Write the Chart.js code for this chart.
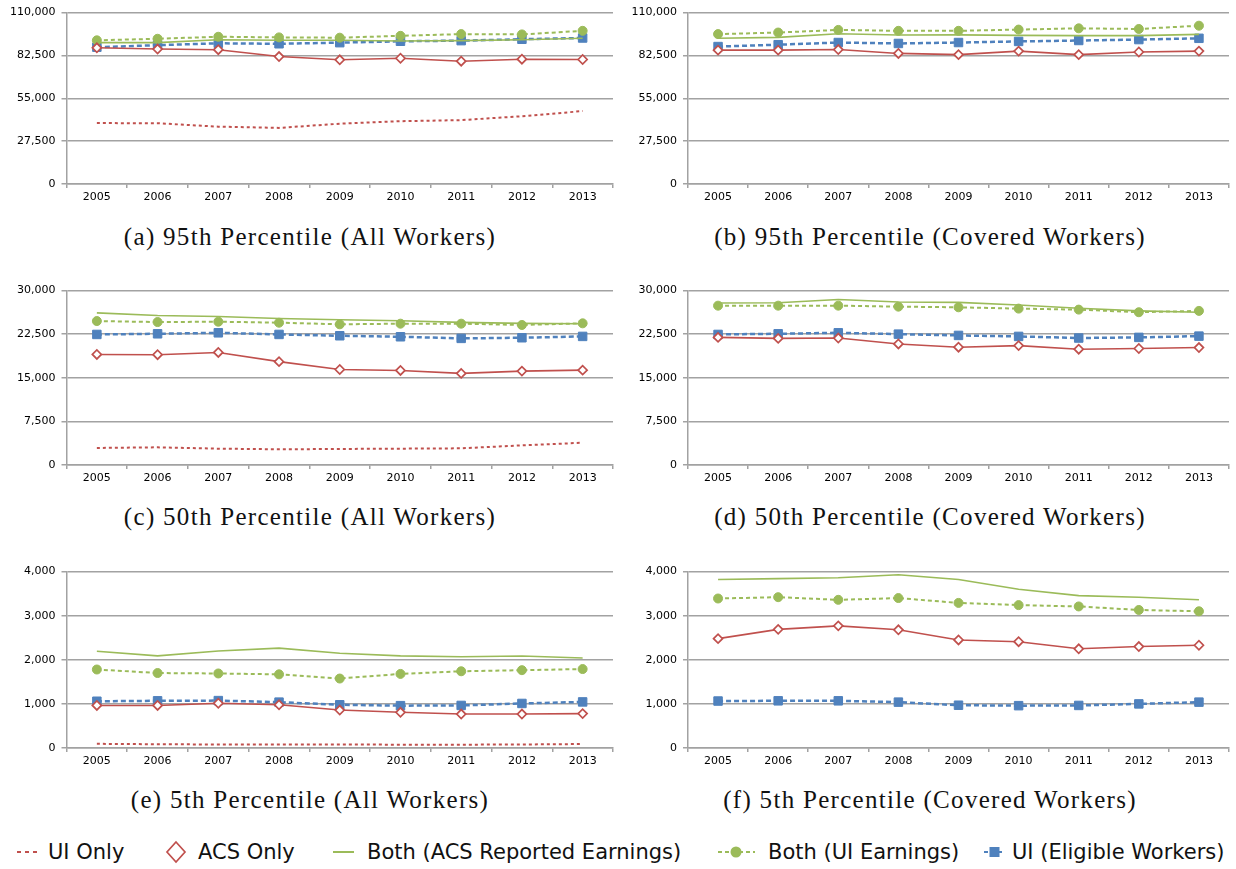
<!DOCTYPE html>
<html>
<head>
<meta charset="utf-8">
<script src="https://cdn.jsdelivr.net/npm/chart.js@4.4.1/dist/chart.umd.min.js"></script>
<style>
  html, body { margin: 0; padding: 0; background: #fff; }
  body { width: 1236px; height: 869px; position: relative; overflow: hidden; }
  canvas { position: absolute; }
  .cap { position: absolute; width: 620px; text-align: center; font-family: "Liberation Serif", serif;
         font-size: 25px; letter-spacing: 1.3px; line-height: 28px; color: #111; white-space: nowrap; }
  .leg { position: absolute; top: 838px; height: 28px; font-family: "DejaVu Sans", sans-serif;
         font-size: 21px; line-height: 28px; color: #111; white-space: nowrap; }
  .leg svg { position: absolute; top: 0; }
  .leg span { position: absolute; top: 0; }
</style>
</head>
<body>
<canvas id="pa" width="620" height="210" style="left:0;top:0"></canvas>
<canvas id="pb" width="616" height="210" style="left:620px;top:0"></canvas>
<canvas id="pc" width="620" height="213" style="left:0;top:278px"></canvas>
<canvas id="pd" width="616" height="213" style="left:620px;top:278px"></canvas>
<canvas id="pe" width="620" height="215" style="left:0;top:559px"></canvas>
<canvas id="pf" width="616" height="215" style="left:620px;top:559px"></canvas>

<div class="cap" style="left:0;top:223px">(a) 95th Percentile (All Workers)</div>
<div class="cap" style="left:620px;top:223px">(b) 95th Percentile (Covered Workers)</div>
<div class="cap" style="left:0;top:503px">(c) 50th Percentile (All Workers)</div>
<div class="cap" style="left:620px;top:503px">(d) 50th Percentile (Covered Workers)</div>
<div class="cap" style="left:0;top:786px">(e) 5th Percentile (All Workers)</div>
<div class="cap" style="left:620px;top:786px">(f) 5th Percentile (Covered Workers)</div>

<div class="leg" style="left:0;width:160px">
  <svg width="44" height="28" style="left:12px"><line x1="5" y1="14" x2="28" y2="14" stroke="#C0504D" stroke-width="2" stroke-dasharray="4,4"/></svg>
  <span style="left:48px">UI Only</span>
</div>
<div class="leg" style="left:160px;width:170px">
  <svg width="34" height="28" style="left:0"><path d="M16 4 L25 14 L16 24 L7 14 Z" fill="#fff" stroke="#C0504D" stroke-width="1.7"/></svg>
  <span style="left:38px">ACS Only</span>
</div>
<div class="leg" style="left:330px;width:380px">
  <svg width="30" height="28" style="left:0"><line x1="3" y1="14" x2="24" y2="14" stroke="#9BBB59" stroke-width="2"/></svg>
  <span style="left:37px">Both (ACS Reported Earnings)</span>
</div>
<div class="leg" style="left:715px;width:250px">
  <svg width="44" height="28" style="left:0"><line x1="3" y1="14" x2="40" y2="14" stroke="#9BBB59" stroke-width="2" stroke-dasharray="4,3"/><circle cx="21" cy="14" r="5.5" fill="#9BBB59"/></svg>
  <span style="left:53px">Both (UI Earnings)</span>
</div>
<div class="leg" style="left:980px;width:256px">
  <svg width="30" height="28" style="left:0"><line x1="4" y1="14" x2="24" y2="14" stroke="#4F81BD" stroke-width="2" stroke-dasharray="4,3"/><rect x="9.5" y="9" width="10" height="10" fill="#4F81BD"/></svg>
  <span style="left:32px">UI (Eligible Workers)</span>
</div>

<script>
// Survey years on the category axis
const years = ['2005', '2006', '2007', '2008', '2009', '2010', '2011', '2012', '2013'];

// Y-axis tick values per percentile
const ticks95 = [0, 27500, 55000, 82500, 110000];
const ticks50 = [0, 7500, 15000, 22500, 30000];
const ticks05 = [0, 1000, 2000, 3000, 4000];

// 95th percentile, all workers
const p95AllUiOnly  = [39100, 39000, 36800, 36000, 38700, 40300, 41000, 43500, 46800];
const p95AllAcsOnly = [87400, 86600, 86200, 81800, 79700, 80700, 78800, 80100, 79900];
const p95AllBothAcs = [90700, 90700, 92600, 92300, 92300, 91800, 92000, 92600, 93500];
const p95AllBothUi  = [92200, 93200, 94500, 94100, 93900, 95100, 96200, 96000, 98300];
const p95AllUiElig  = [87800, 89100, 90300, 90000, 90700, 91600, 92000, 92900, 93700];

// 95th percentile, covered workers
const p95CovAcsOnly = [85900, 85900, 86300, 83800, 83000, 85300, 83000, 84700, 85300];
const p95CovBothAcs = [93500, 94100, 96400, 95600, 95700, 95400, 95200, 95200, 96000];
const p95CovBothUi  = [96200, 97200, 98900, 98300, 98300, 99100, 99900, 99500, 101600];
const p95CovUiElig  = [88200, 89400, 90800, 90200, 90800, 91500, 92100, 92700, 93500];

// 50th percentile, all workers
const p50AllUiOnly  = [2930, 3040, 2810, 2700, 2760, 2810, 2870, 3380, 3830];
const p50AllAcsOnly = [19020, 18970, 19360, 17780, 16430, 16260, 15760, 16150, 16320];
const p50AllBothAcs = [26170, 25720, 25550, 25210, 24990, 24820, 24540, 24370, 24310];
const p50AllBothUi  = [24760, 24590, 24650, 24480, 24200, 24310, 24310, 24090, 24370];
const p50AllUiElig  = [22460, 22570, 22740, 22460, 22230, 22060, 21780, 21890, 22120];

// 50th percentile, covered workers
const p50CovAcsOnly = [21950, 21780, 21840, 20820, 20260, 20540, 19920, 20040, 20200];
const p50CovBothAcs = [27860, 27920, 28480, 28030, 27970, 27520, 26960, 26510, 26280];
const p50CovBothUi  = [27410, 27410, 27410, 27240, 27130, 26900, 26730, 26280, 26510];
const p50CovUiElig  = [22460, 22570, 22740, 22510, 22290, 22120, 21840, 21950, 22170];

// 5th percentile, all workers
const p05AllUiOnly  = [95, 85, 80, 80, 80, 75, 75, 80, 90];
const p05AllAcsOnly = [965, 965, 1015, 980, 860, 810, 770, 770, 780];
const p05AllBothAcs = [2195, 2090, 2200, 2265, 2150, 2090, 2070, 2085, 2040];
const p05AllBothUi  = [1780, 1700, 1690, 1670, 1575, 1680, 1740, 1765, 1790];
const p05AllUiElig  = [1060, 1070, 1075, 1040, 980, 960, 965, 1010, 1045];

// 5th percentile, covered workers
const p05CovAcsOnly = [2480, 2690, 2770, 2680, 2450, 2410, 2250, 2300, 2330];
const p05CovBothAcs = [3820, 3840, 3860, 3930, 3820, 3600, 3455, 3420, 3360];
const p05CovBothUi  = [3390, 3420, 3360, 3400, 3290, 3240, 3210, 3130, 3100];
const p05CovUiElig  = [1065, 1070, 1070, 1040, 970, 960, 965, 1000, 1040];

const RED = '#C0504D', GREEN = '#9BBB59', BLUE = '#4F81BD', GRID = '#a2a2a2';

// Line and marker style of each series
const seriesStyle = {
  uiOnly:  { label: 'UI Only', borderColor: RED, borderWidth: 2, borderDash: [3, 3], pointRadius: 0 },
  acsOnly: { label: 'ACS Only', borderColor: RED, borderWidth: 1.6, pointStyle: 'rectRot', pointRadius: 4.5,
             pointBackgroundColor: '#fff', pointBorderColor: RED, pointBorderWidth: 1.7 },
  bothAcs: { label: 'Both (ACS Reported Earnings)', borderColor: GREEN, borderWidth: 1.6, pointRadius: 0 },
  bothUi:  { label: 'Both (UI Earnings)', borderColor: GREEN, borderWidth: 2, borderDash: [4, 3], pointStyle: 'circle',
             pointRadius: 4.5, pointBackgroundColor: GREEN, pointBorderColor: GREEN, pointBorderWidth: 1 },
  uiElig:  { label: 'UI (Eligible Workers)', borderColor: BLUE, borderWidth: 2.5, borderDash: [5, 3], pointStyle: 'rect',
             pointRadius: 6, pointBackgroundColor: BLUE, pointBorderColor: BLUE, pointBorderWidth: 1 }
};

const tickFont = { family: 'DejaVu Sans', size: 11 };

function buildPanel(id, tickValues, series, geom) {
  const datasets = series.map(([key, values]) => Object.assign(
    { data: values, fill: false, tension: 0, clip: false }, seriesStyle[key]));
  new Chart(document.getElementById(id), {
    type: 'line',
    data: { labels: years, datasets },
    options: {
      responsive: false,
      animation: false,
      devicePixelRatio: 1,
      layout: { padding: { top: geom.padTop, right: geom.padRight, left: 0, bottom: 0 } },
      plugins: { legend: { display: false }, tooltip: { enabled: false } },
      scales: {
        x: {
          offset: true,
          grid: { offset: true, drawOnChartArea: false, drawTicks: true, tickLength: 4, color: GRID, lineWidth: 1.5 },
          border: { color: GRID, width: 1.5 },
          ticks: { font: tickFont, color: '#000', padding: 3, maxRotation: 0, autoSkip: false },
          afterFit(scale) { scale.height = 26; }
        },
        y: {
          min: tickValues[0],
          max: tickValues[tickValues.length - 1],
          afterBuildTicks(scale) { scale.ticks = tickValues.map(v => ({ value: v })); },
          grid: { color: GRID, lineWidth: 1.5, tickLength: 5 },
          border: { color: GRID, width: 1.5 },
          ticks: { font: tickFont, color: '#000', padding: 6,
                   callback: v => Number(v).toLocaleString('en-US') },
          afterFit(scale) { scale.width = geom.yWidth; }
        }
      }
    }
  });
}

const leftCol  = { yWidth: 66.5, padRight: 6.5 };
const rightCol = { yWidth: 68, padRight: 1.5 };

buildPanel('pa', ticks95, [['uiOnly', p95AllUiOnly], ['acsOnly', p95AllAcsOnly], ['bothAcs', p95AllBothAcs],
                           ['bothUi', p95AllBothUi], ['uiElig', p95AllUiElig]], Object.assign({ padTop: 9 }, leftCol));
buildPanel('pb', ticks95, [['acsOnly', p95CovAcsOnly], ['bothAcs', p95CovBothAcs],
                           ['bothUi', p95CovBothUi], ['uiElig', p95CovUiElig]], Object.assign({ padTop: 9 }, rightCol));
buildPanel('pc', ticks50, [['uiOnly', p50AllUiOnly], ['acsOnly', p50AllAcsOnly], ['bothAcs', p50AllBothAcs],
                           ['bothUi', p50AllBothUi], ['uiElig', p50AllUiElig]], Object.assign({ padTop: 9.3 }, leftCol));
buildPanel('pd', ticks50, [['acsOnly', p50CovAcsOnly], ['bothAcs', p50CovBothAcs],
                           ['bothUi', p50CovBothUi], ['uiElig', p50CovUiElig]], Object.assign({ padTop: 9.3 }, rightCol));
buildPanel('pe', ticks05, [['uiOnly', p05AllUiOnly], ['acsOnly', p05AllAcsOnly], ['bothAcs', p05AllBothAcs],
                           ['bothUi', p05AllBothUi], ['uiElig', p05AllUiElig]], Object.assign({ padTop: 9.3 }, leftCol));
buildPanel('pf', ticks05, [['acsOnly', p05CovAcsOnly], ['bothAcs', p05CovBothAcs],
                           ['bothUi', p05CovBothUi], ['uiElig', p05CovUiElig]], Object.assign({ padTop: 9.3 }, rightCol));
</script>
</body>
</html>
